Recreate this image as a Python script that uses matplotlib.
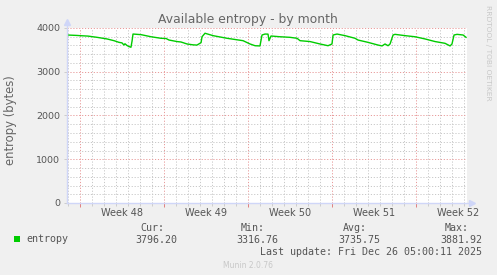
import matplotlib
matplotlib.use('Agg')
import matplotlib.pyplot as plt
from matplotlib.patches import Rectangle
import numpy as np

W, H = 497, 275

# time in days from left edge of graph, entropy in bytes
DAYS = [0.00, 0.42, 0.83, 1.08, 1.75, 2.50, 3.33, 3.92, 4.33, 4.58, 4.75, 4.83,
        5.00, 5.17, 5.33, 5.42, 5.50, 6.17, 7.00, 7.83, 8.25, 8.50, 9.17, 9.50,
        10.00, 10.50, 10.83, 11.17, 11.25, 11.50, 12.17, 13.33, 14.67, 15.25,
        15.67, 16.08, 16.25, 16.50, 16.75, 16.83, 17.00, 17.75, 18.58, 19.17,
        19.42, 20.25, 21.08, 21.75, 22.08, 22.17, 22.50, 23.17, 24.00, 24.25,
        25.08, 25.92, 26.25, 26.50, 26.75, 26.92, 27.17, 27.33, 28.17, 29.00,
        29.83, 30.67, 31.50, 31.92, 32.08, 32.25, 32.50, 33.00, 33.25]
ENTROPY = [3840, 3835, 3830, 3825, 3815, 3787, 3750, 3710, 3672, 3660, 3610, 3640,
           3600, 3575, 3560, 3700, 3862, 3848, 3800, 3765, 3760, 3725, 3690, 3680,
           3635, 3615, 3610, 3665, 3800, 3880, 3825, 3765, 3710, 3635,
           3595, 3590, 3840, 3862, 3860, 3710, 3817, 3800, 3787, 3765,
           3710, 3690, 3635, 3595, 3635, 3840, 3862, 3825, 3765, 3725,
           3672, 3610, 3590, 3635, 3595, 3635, 3840, 3855, 3825, 3800,
           3750, 3690, 3650, 3590, 3635, 3840, 3855, 3840, 3787]

SPAN_DAYS = 33.33
FIRST_MONDAY = 1.08
WEEKS = ["Week 48", "Week 49", "Week 50", "Week 51", "Week 52"]
Y_TICKS = [0, 1000, 2000, 3000, 4000]

STAT_NAMES = ["Cur:", "Min:", "Avg:", "Max:"]
STAT_VALUES = [3796.20, 3316.76, 3735.75, 3881.92]
STAT_RIGHT = [177, 278, 380, 482]

GREEN = '#00cc00'
FONT = '#666666'
AXIS = '#cfd6f8'


def fx(x):
    return x / W


def fy(y):
    return 1 - y / H


fig = plt.figure(figsize=(W / 100, H / 100), dpi=100, facecolor='#f0f0f0')
ax = fig.add_axes([fx(67), fy(203), (467 - 67) / W, (203 - 28) / H])
ax.set_facecolor('white')

ax.set_xlim(0, SPAN_DAYS)
ax.set_ylim(0, 4000)

week_bounds = [FIRST_MONDAY + 7 * k for k in range(len(WEEKS))]
day_lines = list(np.arange(FIRST_MONDAY - 1, SPAN_DAYS, 1.0))
ax.set_xticks(week_bounds)
ax.set_xticks(day_lines, minor=True)
ax.set_xticklabels([])
ax.set_yticks(Y_TICKS)
ax.set_yticks(np.arange(0, 4001, 200), minor=True)
ax.set_yticklabels([str(v) for v in Y_TICKS], fontsize=6.8, color='#555555')

ax.grid(which='minor', color='#c8c8c8', linestyle=(0, (1.2, 1.8)), linewidth=0.7)
ax.grid(which='major', color='#e89a9a', linestyle=(0, (1.2, 1.8)), linewidth=0.7)
ax.set_axisbelow(True)

ax.tick_params(axis='x', which='major', length=3, color='#e08080', width=0.7)
ax.tick_params(axis='x', which='minor', length=2, color='#cccccc', width=0.7)
ax.tick_params(axis='y', which='major', length=2, color='#cccccc', width=0.7, pad=3)
ax.tick_params(axis='y', which='minor', length=0)

for s in ax.spines.values():
    s.set_visible(False)

for i, w in enumerate(WEEKS):
    ax.text(week_bounds[i] + 3.5, -0.055, w, transform=ax.get_xaxis_transform(),
            ha='center', va='center', fontsize=7, color='#555555')

ax.plot(DAYS, ENTROPY, color=GREEN, linewidth=1.0, zorder=5)

# axes with arrows
ax.plot([0, 0], [0, 1.03], transform=ax.transAxes, color=AXIS, lw=1.0, clip_on=False, zorder=6)
ax.plot([0, 1.01], [0, 0], transform=ax.transAxes, color=AXIS, lw=1.0, clip_on=False, zorder=6)
ax.plot([0], [1.035], marker='^', markersize=4, color=AXIS, transform=ax.transAxes, clip_on=False)
ax.plot([1.012], [0], marker='>', markersize=4, color=AXIS, transform=ax.transAxes, clip_on=False)

fig.text(fx(247.5), fy(19), "Available entropy - by month", ha='center', va='center',
         fontsize=8.9, color=FONT)
fig.text(fx(11), fy(120), "entropy (bytes)", rotation=90, ha='center', va='center',
         fontsize=8.4, color=FONT)
fig.text(fx(488), fy(53), "RRDTOOL / TOBI OETIKER", rotation=270, ha='center', va='center',
         fontsize=5.4, color='#c8c8c8')

mono = dict(family='DejaVu Sans Mono', fontsize=7.2, color='#555555', va='center')
fig.add_artist(Rectangle((fx(14), fy(242)), 6 / W, 6 / H, transform=fig.transFigure,
                         color=GREEN, lw=0))
fig.text(fx(26.5), fy(239.5), "entropy", ha='left', **mono)
for name, val, right in zip(STAT_NAMES, STAT_VALUES, STAT_RIGHT):
    fig.text(fx(right - 13), fy(228), name, ha='right', **mono)
    fig.text(fx(right), fy(240), f"{val:.2f}", ha='right', **mono)
fig.text(fx(482), fy(252), "Last update: Fri Dec 26 05:00:11 2025", ha='right', **mono)
fig.text(fx(248), fy(265), "Munin 2.0.76", ha='center', va='center', fontsize=5.5, color='#c8c8c8')

fig.savefig('out.png', dpi=100, facecolor=fig.get_facecolor())
